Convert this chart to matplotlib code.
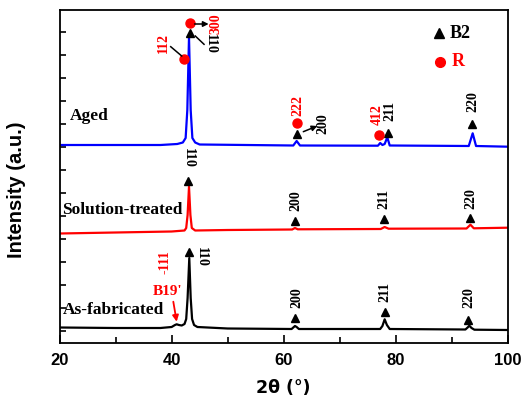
import matplotlib
matplotlib.use("Agg")
import matplotlib.pyplot as plt
import numpy as np

# ---------------- data ----------------
# As-fabricated (black)
asfab_2theta = [20, 30, 38, 40, 40.6, 40.9, 41.3, 41.8, 42.3, 42.6, 42.85, 43.15, 43.4, 43.65,
                44.0, 44.6, 50, 61.4, 61.8, 62.0, 62.3, 62.7, 77.2, 77.6, 78.0, 78.4, 78.9,
                92.4, 92.8, 93.1, 93.5, 94.0, 100]
asfab_int = [15.5, 15, 15, 16, 18, 18.7, 18, 17.5, 19, 24, 45, 85, 45, 24,
             18, 16, 14.5, 14, 16, 17, 16, 14, 14, 17, 23.7, 18, 14,
             13.5, 15.5, 17.3, 15, 13.3, 13]

# Solution-treated (red)
sol_2theta = [20, 30, 40, 42.3, 42.6, 42.85, 43.1, 43.35, 43.6, 44.2, 50, 61.5, 62.0, 62.5,
              77.3, 78.0, 78.7, 92.6, 93.3, 93.9, 100]
sol_int = [109.5, 110.5, 111.5, 112.5, 115, 128, 156.3, 128, 115, 112.5, 113, 113.5, 115, 113.7,
           114, 116, 114.3, 114.5, 118.3, 114.7, 115.3]

# Aged (blue)
aged_2theta = [20, 38, 41, 42.0, 42.5, 42.8, 43.1, 43.4, 43.7, 44.2, 45, 61.7, 62.3, 62.9,
               76.8, 77.2, 77.6, 78.0, 78.47, 78.9, 93.0, 93.7, 94.3, 100]
aged_int = [198, 198, 199, 200.5, 205, 233, 306, 233, 205, 200.5, 198.5, 197.5, 202, 197.5,
            197.3, 200, 198, 199, 205.7, 197.5, 197, 209.7, 197, 196.3]

# phase markers: B2 (triangles) and R (circles)
b2_2theta = [43.15, 62.0, 78.06, 92.9, 42.92, 62.0, 77.94, 93.2, 43.3, 62.4, 78.65, 93.63]
b2_int = [91, 25, 31.3, 23, 162.3, 122.3, 124, 125.3, 309.7, 209, 210.3, 219]
r_2theta = [43.33, 42.26, 62.42, 77.0]
r_int = [319.7, 284.3, 219.7, 208]

x_ticks = [20, 40, 60, 80, 100]

# ---------------- figure ----------------
fig = plt.figure(figsize=(5.23, 4.04), dpi=100)
ax = fig.add_axes([59.5 / 523, 61 / 404, (508 - 59.5) / 523, 333 / 404])

lw = 1.6
ax.plot(asfab_2theta, asfab_int, color='black', lw=lw)
ax.plot(sol_2theta, sol_int, color='#ff0000', lw=lw)
ax.plot(aged_2theta, aged_int, color='#0000ff', lw=lw)

ax.plot(b2_2theta, b2_int, '^', color='black', ms=6, ls='none')
ax.plot(r_2theta, r_int, 'o', color='#ff0000', ms=6.5, ls='none')

ax.set_xlim(20, 100)
ax.set_ylim(0, 333)

serif = 'Liberation Serif'
sans = 'Liberation Sans'
fs_pk = 10

def lab(x, y, s, color='black', rot=90):
    ax.text(x, y, s, color=color, rotation=rot, ha='center', va='center',
            fontsize=fs_pk, fontweight='bold', family=serif)

# Aged labels
lab(47.97, 319.5, '300', color='#ff0000')
lab(46.84, 299, '110', rot=-90)
lab(38.5, 300, '112', color='#ff0000')
lab(62.55, 238, '222', color='#ff0000')
lab(67.0, 219, '200')
lab(76.6, 228, '412', color='#ff0000')
lab(78.85, 232, '211')
lab(93.8, 241.5, '220')
# Solution-treated labels
lab(42.98, 185.5, '110', rot=-90)
lab(62.19, 142, '200')
lab(77.94, 144, '211')
lab(93.35, 144.5, '220')
# As-fabricated labels
lab(45.37, 86.5, '110', rot=-90)
lab(62.3, 45.5, '200')
lab(78.06, 51, '211')
lab(93.1, 45.5, '220')
lab(38.82, 80.5, '-111', color='#ff0000')
ax.text(36.6, 51.3, "B19'", color='#ff0000', ha='left', va='center',
        fontsize=11, fontweight='bold', family=serif)

# leader lines / arrows
arw = dict(arrowstyle='-|>', color='black', lw=1.1, mutation_scale=8, shrinkA=0, shrinkB=0)
ax.annotate('', xy=(46.6, 319), xytext=(44.1, 319), arrowprops=arw)
ax.plot([44.22, 45.78], [307, 298.7], color='black', lw=1.1)
ax.plot([41.8, 39.84], [287, 296.3], color='black', lw=1.1)
ax.annotate('', xy=(65.99, 217), xytext=(63.49, 211.3), arrowprops=arw)
ax.annotate('', xy=(40.9, 21.3), xytext=(40.3, 41.3),
            arrowprops=dict(arrowstyle='-|>', color='#ff0000', lw=1.3, mutation_scale=9,
                            shrinkA=0, shrinkB=0))

# sample names
for x, y, s in [(21.87, 227, 'Aged'), (20.4, 133, 'Solution-treated'), (20.6, 33, 'As-fabricated')]:
    ax.text(x, y, s, ha='left', va='center', fontsize=12.5, fontweight='bold', family=serif)

# legend
ax.plot([87.75], [309.7], '^', color='black', ms=6.5)
ax.text(89.65, 310, 'B2', ha='left', va='center', fontsize=13, fontweight='bold', family=serif)
ax.plot([87.87], [280.7], 'o', color='#ff0000', ms=7)
ax.text(90.0, 281, 'R', color='#ff0000', ha='left', va='center', fontsize=13,
        fontweight='bold', family=serif)

# axes styling
ax.set_xticks(x_ticks)
ax.set_xticks([30, 50, 70, 90], minor=True)
ax.set_yticks(np.arange(12, 333, 23))
ax.tick_params(axis='x', which='major', direction='in', length=6, width=1.2,
               labelsize=12, pad=7)
ax.tick_params(axis='x', which='minor', direction='in', length=4, width=1.2)
ax.tick_params(axis='y', which='both', direction='in', length=4, width=1.2, labelleft=False)
for lbl in ax.get_xticklabels():
    lbl.set_fontweight('bold')
    lbl.set_family(sans)
for sp in ax.spines.values():
    sp.set_linewidth(1.3)

ax.set_xlabel('2θ (°)', fontsize=12.5, fontweight='bold', family='DejaVu Sans', labelpad=8)
ax.set_ylabel('Intensity (a.u.)', fontsize=14.5, fontweight='bold', family=sans)
ax.yaxis.set_label_coords(-0.075, 0.46)

fig.savefig('out.png', dpi=100)
